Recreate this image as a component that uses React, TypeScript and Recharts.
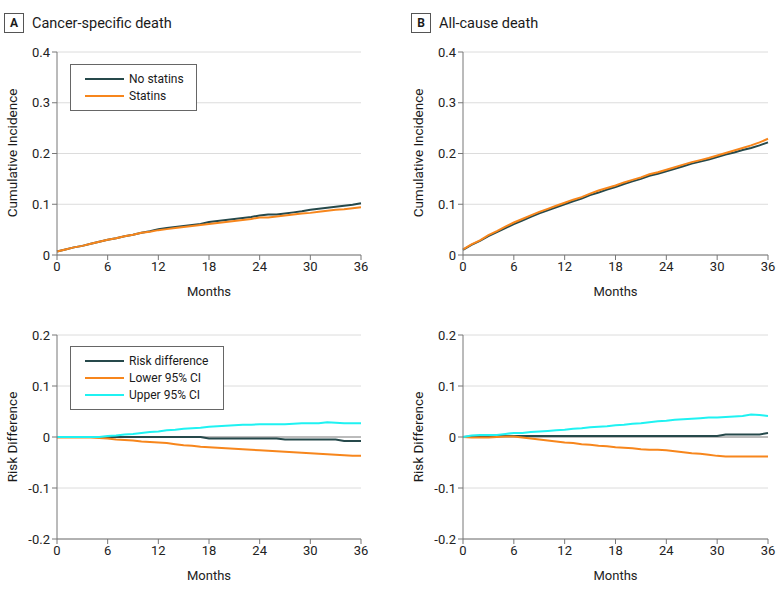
import React from 'react';
import { LineChart, Line, XAxis, YAxis, CartesianGrid, ReferenceLine, Legend } from 'recharts';

const months = [0, 1, 2, 3, 4, 5, 6, 7, 8, 9, 10, 11, 12, 13, 14, 15, 16, 17, 18, 19, 20, 21, 22, 23, 24, 25, 26, 27, 28, 29, 30, 31, 32, 33, 34, 35, 36];
const monthTicks = [0, 6, 12, 18, 24, 30, 36];
const incidenceTicks = [0, 0.1, 0.2, 0.3, 0.4];
const diffTicks = [-0.2, -0.1, 0, 0.1, 0.2];

// A - cancer-specific death, cumulative incidence
const cancerNoStatins = [0.007, 0.011, 0.015, 0.018, 0.022, 0.026, 0.030, 0.033, 0.037, 0.040, 0.044, 0.047, 0.051, 0.053, 0.055, 0.057, 0.059, 0.061, 0.065, 0.067, 0.069, 0.071, 0.073, 0.075, 0.078, 0.080, 0.080, 0.082, 0.084, 0.086, 0.089, 0.091, 0.093, 0.095, 0.097, 0.099, 0.102];
const cancerStatins = [0.007, 0.011, 0.015, 0.018, 0.022, 0.026, 0.030, 0.033, 0.037, 0.040, 0.044, 0.046, 0.049, 0.051, 0.053, 0.055, 0.057, 0.059, 0.061, 0.063, 0.065, 0.067, 0.069, 0.071, 0.074, 0.074, 0.076, 0.078, 0.080, 0.082, 0.083, 0.085, 0.087, 0.089, 0.090, 0.092, 0.094];

// B - all-cause death, cumulative incidence
const allNoStatins = [0.010, 0.020, 0.028, 0.037, 0.045, 0.053, 0.061, 0.068, 0.075, 0.082, 0.088, 0.094, 0.100, 0.106, 0.111, 0.118, 0.123, 0.129, 0.134, 0.140, 0.145, 0.150, 0.156, 0.160, 0.165, 0.170, 0.175, 0.180, 0.184, 0.188, 0.193, 0.198, 0.202, 0.207, 0.211, 0.216, 0.222];
const allStatins = [0.011, 0.021, 0.029, 0.039, 0.047, 0.056, 0.064, 0.071, 0.078, 0.085, 0.091, 0.097, 0.103, 0.109, 0.114, 0.121, 0.127, 0.132, 0.137, 0.143, 0.148, 0.153, 0.159, 0.163, 0.168, 0.173, 0.178, 0.183, 0.187, 0.191, 0.196, 0.201, 0.206, 0.211, 0.216, 0.222, 0.229];

// risk differences, cancer-specific
const cancerRisk = [0, 0, 0, 0, 0, 0, 0, 0, 0, 0, 0, 0, 0, 0, 0, 0, 0, 0, -0.003, -0.003, -0.003, -0.003, -0.003, -0.003, -0.003, -0.003, -0.003, -0.005, -0.005, -0.005, -0.005, -0.005, -0.005, -0.005, -0.008, -0.008, -0.008];
const cancerLower = [-0.001, -0.001, -0.001, -0.001, -0.001, -0.002, -0.003, -0.005, -0.006, -0.007, -0.009, -0.010, -0.011, -0.012, -0.014, -0.016, -0.017, -0.019, -0.020, -0.021, -0.022, -0.023, -0.024, -0.025, -0.026, -0.027, -0.028, -0.029, -0.030, -0.031, -0.032, -0.033, -0.034, -0.035, -0.036, -0.037, -0.037];
const cancerUpper = [0, 0, 0, 0, 0, 0, 0.002, 0.003, 0.005, 0.006, 0.008, 0.010, 0.011, 0.013, 0.014, 0.016, 0.017, 0.018, 0.020, 0.021, 0.022, 0.023, 0.024, 0.024, 0.025, 0.025, 0.025, 0.025, 0.026, 0.027, 0.027, 0.027, 0.029, 0.028, 0.027, 0.027, 0.027];

// risk differences, all-cause
const allRisk = [0, 0.001, 0.002, 0.002, 0.002, 0.002, 0.002, 0.002, 0.002, 0.002, 0.002, 0.002, 0.002, 0.002, 0.002, 0.002, 0.002, 0.002, 0.002, 0.002, 0.002, 0.002, 0.002, 0.002, 0.002, 0.002, 0.002, 0.002, 0.002, 0.002, 0.002, 0.005, 0.005, 0.005, 0.005, 0.005, 0.008];
const allLower = [0, -0.001, -0.001, -0.001, 0, 0.001, 0.001, -0.001, -0.003, -0.005, -0.007, -0.009, -0.011, -0.012, -0.014, -0.015, -0.017, -0.018, -0.020, -0.021, -0.022, -0.024, -0.025, -0.025, -0.026, -0.028, -0.030, -0.032, -0.033, -0.035, -0.037, -0.038, -0.038, -0.038, -0.038, -0.038, -0.038];
const allUpper = [0, 0.003, 0.004, 0.004, 0.004, 0.006, 0.008, 0.008, 0.010, 0.011, 0.012, 0.013, 0.014, 0.016, 0.017, 0.019, 0.020, 0.021, 0.023, 0.024, 0.026, 0.027, 0.029, 0.031, 0.032, 0.034, 0.035, 0.036, 0.037, 0.038, 0.038, 0.039, 0.040, 0.041, 0.044, 0.043, 0.041];

const DARK = '#26494b';
const ORANGE = '#f7861c';
const CYAN = '#1ff2f2';
const FONT = 'Roboto, "Noto Sans", sans-serif';

type Series = { key: string; name: string; color: string; values: number[] };

const buildRows = (series: Series[]) =>
  months.map((m, i) => {
    const row: Record<string, number> = { month: m };
    series.forEach(s => { row[s.key] = s.values[i]; });
    return row;
  });

// keeps the legend in series order (recharts sorts by name otherwise)
const LegendBox = (props: any) => {
  const { payload, order } = props;
  const items = [...(payload || [])].sort(
    (a: any, b: any) => order.indexOf(a.value) - order.indexOf(b.value)
  );
  return (
    <div style={{ border: '1px solid #666', background: '#fff', padding: '5px 0', boxSizing: 'border-box', fontFamily: FONT, fontSize: 12, color: '#1a1a1a' }}>
      {items.map((p: any) => (
        <div key={p.value} style={{ display: 'flex', alignItems: 'center', height: 17.4 }}>
          <span style={{ display: 'inline-block', width: 39, height: 2, background: p.color, marginLeft: 14, marginRight: 5 }} />
          <span>{p.value}</span>
        </div>
      ))}
    </div>
  );
};

interface PanelProps {
  left: number;
  top: number;
  height: number;
  yWidth: number;
  right: number;
  marginTop: number;
  marginBottom: number;
  series: Series[];
  yTicks: number[];
  diff?: boolean;
  legend?: { left: number; top: number; width: number };
}

const Panel = ({ left, top, height, yWidth, right, marginTop, marginBottom, series, yTicks, diff, legend }: PanelProps) => {
  const data = buildRows(series);
  return (
    <div style={{ position: 'absolute', left, top }}>
      <LineChart width={390} height={height} data={data} margin={{ top: marginTop, right, bottom: marginBottom, left: 0 }}>
        <CartesianGrid vertical={false} stroke="#dcdcdc" strokeWidth={1} />
        <XAxis
          type="number"
          dataKey="month"
          domain={[0, 36]}
          ticks={monthTicks}
          interval={0}
          tickSize={5}
          stroke="#777"
          height={45}
          tick={{ fontSize: 13, fill: '#222', fontFamily: FONT }}
          label={{ value: 'Months', position: 'insideBottom', offset: 4, fontSize: 13, fill: '#222', fontFamily: FONT }}
        />
        <YAxis
          type="number"
          domain={[yTicks[0], yTicks[yTicks.length - 1]]}
          ticks={yTicks}
          interval={0}
          tickSize={5}
          width={yWidth}
          stroke="#777"
          tick={{ fontSize: 13, fill: '#222', fontFamily: FONT }}
          tickFormatter={(v: number) => (v === 0 ? '0' : String(v))}
        />
        {diff && <ReferenceLine y={0} stroke="#8a8a8a" strokeWidth={1} />}
        {series.map(s => (
          <Line
            key={s.key}
            type="linear"
            dataKey={s.key}
            name={s.name}
            stroke={s.color}
            strokeWidth={2}
            dot={false}
            isAnimationActive={false}
          />
        ))}
        {legend && (
          <Legend
            layout="vertical"
            align="center"
            verticalAlign="middle"
            content={<LegendBox order={series.map(s => s.name)} />}
            wrapperStyle={{ left: legend.left, top: legend.top, width: legend.width }}
          />
        )}
      </LineChart>
    </div>
  );
};

const PanelTitle = ({ left, letter, title }: { left: number; letter: string; title: string }) => (
  <div style={{ position: 'absolute', left, top: 13, display: 'flex', alignItems: 'center', fontFamily: FONT, color: '#1a1a1a' }}>
    <div style={{ width: 20, height: 20, boxSizing: 'border-box', border: '1px solid #555', fontWeight: 700, fontSize: 12, display: 'flex', alignItems: 'center', justifyContent: 'center' }}>{letter}</div>
    <div style={{ marginLeft: 8, fontSize: 14.5 }}>{title}</div>
  </div>
);

const AxisTitle = ({ cx, cy, text }: { cx: number; cy: number; text: string }) => (
  <div style={{ position: 'absolute', left: cx, top: cy, transform: 'translate(-50%, -50%) rotate(-90deg)', whiteSpace: 'nowrap', fontFamily: FONT, fontSize: 13.5, color: '#1a1a1a' }}>{text}</div>
);

export default function App() {
  const topA: Series[] = [
    { key: 'no', name: 'No statins', color: DARK, values: cancerNoStatins },
    { key: 'yes', name: 'Statins', color: ORANGE, values: cancerStatins },
  ];
  const topB: Series[] = [
    { key: 'no', name: 'No statins', color: DARK, values: allNoStatins },
    { key: 'yes', name: 'Statins', color: ORANGE, values: allStatins },
  ];
  const bottomA: Series[] = [
    { key: 'rd', name: 'Risk difference', color: DARK, values: cancerRisk },
    { key: 'lo', name: 'Lower 95% CI', color: ORANGE, values: cancerLower },
    { key: 'hi', name: 'Upper 95% CI', color: CYAN, values: cancerUpper },
  ];
  const bottomB: Series[] = [
    { key: 'rd', name: 'Risk difference', color: DARK, values: allRisk },
    { key: 'lo', name: 'Lower 95% CI', color: ORANGE, values: allLower },
    { key: 'hi', name: 'Upper 95% CI', color: CYAN, values: allUpper },
  ];

  return (
    <div style={{ position: 'absolute', left: 0, top: 0, width: 780, height: 593, background: '#fff', overflow: 'hidden' }}>
      <PanelTitle left={4} letter="A" title="Cancer-specific death" />
      <PanelTitle left={411} letter="B" title="All-cause death" />

      <Panel left={0} top={0} height={310} yWidth={57} right={29} marginTop={52} marginBottom={10}
        series={topA} yTicks={incidenceTicks} legend={{ left: 70, top: 64, width: 127 }} />
      <Panel left={390} top={0} height={310} yWidth={73} right={12} marginTop={52} marginBottom={10}
        series={topB} yTicks={incidenceTicks} />
      <Panel left={0} top={300} height={293} yWidth={57} right={29} marginTop={35} marginBottom={9}
        series={bottomA} yTicks={diffTicks} diff legend={{ left: 70, top: 46, width: 154 }} />
      <Panel left={390} top={300} height={293} yWidth={73} right={12} marginTop={35} marginBottom={9}
        series={bottomB} yTicks={diffTicks} diff />

      <AxisTitle cx={12} cy={153} text="Cumulative Incidence" />
      <AxisTitle cx={418} cy={153} text="Cumulative Incidence" />
      <AxisTitle cx={12} cy={437} text="Risk Difference" />
      <AxisTitle cx={418} cy={437} text="Risk Difference" />
    </div>
  );
}
